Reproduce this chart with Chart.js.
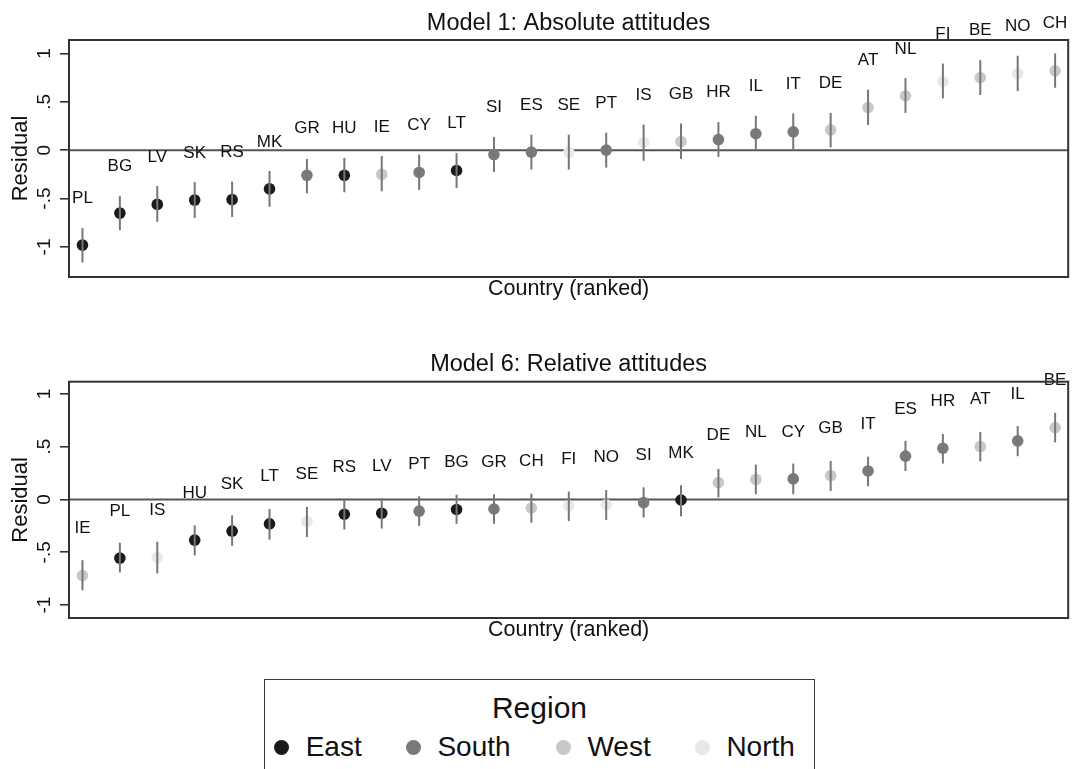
<!DOCTYPE html>
<html><head><meta charset="utf-8">
<script src="https://cdn.jsdelivr.net/npm/chart.js@4.4.1/dist/chart.umd.min.js"></script>
<style>
html,body{margin:0;padding:0;background:#fff;}
body{width:1074px;height:769px;position:relative;overflow:hidden;font-family:"Liberation Sans",Arial,sans-serif;color:#111;}
#c1{position:absolute;left:0;top:0;}
#c2{position:absolute;left:0;top:340px;}
#legend{position:absolute;left:264px;top:679px;width:551px;height:100px;border:1.6px solid #3a3a3a;box-sizing:border-box;}
#legend .ttl{position:absolute;left:0;right:0;top:10.4px;text-align:center;font-size:30px;line-height:36px;}
#legend .item{position:absolute;top:0;height:100px;}
#legend .dot{position:absolute;top:59.9px;left:0;width:15px;height:15px;border-radius:50%;}
#legend .txt{position:absolute;top:49.7px;left:31.5px;font-size:28px;line-height:34px;white-space:nowrap;}
</style>
</head><body>
<canvas id="c1" width="1074" height="307"></canvas>
<canvas id="c2" width="1074" height="308"></canvas>
<div id="legend"><div class="ttl">Region</div></div>
<script>
// ---- data ----
const regionNames = ['East','South','West','North'];

const m1Countries = ['PL','BG','LV','SK','RS','MK','GR','HU','IE','CY','LT','SI','ES','SE','PT','IS','GB','HR','IL','IT','DE','AT','NL','FI','BE','NO','CH'];
const m1Regions   = ['East','East','East','East','East','East','South','East','West','South','East','South','South','North','South','North','West','South','South','South','West','West','West','North','West','North','West'];
const m1Residual  = [-0.98,-0.65,-0.56,-0.515,-0.51,-0.40,-0.26,-0.26,-0.25,-0.23,-0.21,-0.045,-0.02,-0.02,0.0,0.08,0.09,0.11,0.17,0.19,0.21,0.44,0.56,0.71,0.75,0.79,0.82];
const m1Lower     = [-1.16,-0.825,-0.74,-0.70,-0.69,-0.585,-0.445,-0.435,-0.425,-0.41,-0.39,-0.225,-0.20,-0.20,-0.18,-0.11,-0.09,-0.07,0.0,0.01,0.03,0.26,0.385,0.535,0.57,0.61,0.645];
const m1Upper     = [-0.805,-0.475,-0.37,-0.33,-0.325,-0.215,-0.09,-0.08,-0.06,-0.045,-0.03,0.135,0.16,0.16,0.18,0.265,0.275,0.29,0.355,0.38,0.385,0.625,0.745,0.895,0.93,0.975,1.0];

const m6Countries = ['IE','PL','IS','HU','SK','LT','SE','RS','LV','PT','BG','GR','CH','FI','NO','SI','MK','DE','NL','CY','GB','IT','ES','HR','AT','IL','BE'];
const m6Regions   = ['West','East','North','East','East','East','North','East','East','South','East','South','West','North','North','South','East','West','West','South','West','South','South','South','West','South','West'];
const m6Residual  = [-0.72,-0.555,-0.55,-0.385,-0.30,-0.23,-0.21,-0.14,-0.13,-0.11,-0.095,-0.09,-0.08,-0.06,-0.05,-0.03,-0.005,0.16,0.19,0.195,0.225,0.27,0.41,0.485,0.50,0.555,0.68];
const m6Lower     = [-0.86,-0.69,-0.70,-0.53,-0.44,-0.38,-0.355,-0.285,-0.275,-0.25,-0.23,-0.23,-0.22,-0.205,-0.195,-0.17,-0.16,0.02,0.05,0.05,0.08,0.125,0.27,0.34,0.36,0.41,0.54];
const m6Upper     = [-0.575,-0.41,-0.40,-0.245,-0.15,-0.09,-0.07,0.0,0.01,0.03,0.045,0.05,0.055,0.075,0.09,0.115,0.135,0.29,0.33,0.34,0.365,0.405,0.555,0.62,0.64,0.695,0.82];

const yTickValues = [-1,-0.5,0,0.5,1];
const yTickLabels = ['-1','-.5','0','.5','1'];

// ---- styles ----
const regionColors = {East:'#1a1a1a', South:'#7a7a7a', West:'#c8c8c8', North:'#e8e8e8'};
const FONT = '"Liberation Sans", Arial, sans-serif';

function annotPlugin(countries, lower, upper){
  return {
    id:'annot',
    beforeDatasetsDraw(chart){
      const {ctx, chartArea:a, scales:{y}} = chart;
      const py = y.getPixelForValue(0);
      ctx.save();
      ctx.strokeStyle = '#555'; ctx.lineWidth = 2;
      ctx.beginPath(); ctx.moveTo(a.left, py); ctx.lineTo(a.right, py); ctx.stroke();
      ctx.restore();
    },
    afterDatasetsDraw(chart){
      const {ctx, scales:{x,y}} = chart;
      ctx.save();
      ctx.strokeStyle = '#767676'; ctx.lineWidth = 2;
      countries.forEach((c,i)=>{
        const px = x.getPixelForValue(i+1);
        ctx.beginPath();
        ctx.moveTo(px, y.getPixelForValue(lower[i]));
        ctx.lineTo(px, y.getPixelForValue(upper[i]));
        ctx.stroke();
      });
      ctx.restore();
    },
    afterDraw(chart){
      const {ctx, chartArea:a, scales:{x,y}} = chart;
      ctx.save();
      // country labels
      ctx.fillStyle = '#111'; ctx.font = '17px ' + FONT;
      ctx.textAlign = 'center'; ctx.textBaseline = 'middle';
      chart.data.datasets.forEach(ds=>{
        ds.data.forEach(d=>{
          const px = x.getPixelForValue(d.x), py = y.getPixelForValue(d.y);
          ctx.fillText(d.label, px, py - 47);
        });
      });
      // plot box
      ctx.strokeStyle = '#333'; ctx.lineWidth = 2;
      ctx.strokeRect(a.left, a.top, a.right - a.left, a.bottom - a.top);
      // rotated y tick labels
      ctx.font = '19px ' + FONT; ctx.fillStyle = '#111';
      y.ticks.forEach(t=>{
        const k = yTickValues.indexOf(t.value);
        if (k < 0) return;
        const py = y.getPixelForValue(t.value);
        ctx.save();
        ctx.translate(44.5, py);
        ctx.rotate(-Math.PI/2);
        ctx.textAlign = 'center'; ctx.textBaseline = 'middle';
        ctx.fillText(yTickLabels[k], 0, 0);
        ctx.restore();
      });
      ctx.restore();
    }
  };
}

function makeChart(id, titleText, countries, regions, vals, lower, upper, yMin, yMax, titlePad, xTitlePadB){
  const datasets = regionNames.map(r=>({
    label: r,
    data: countries.map((c,i)=>({x:i+1, y:vals[i], label:c, r:regions[i]})).filter(d=>d.r===r),
    backgroundColor: regionColors[r],
    borderWidth: 0,
    pointRadius: 5.8,
    pointHoverRadius: 5.8
  }));
  return new Chart(document.getElementById(id), {
    type: 'scatter',
    data: { datasets },
    options: {
      responsive: false,
      maintainAspectRatio: false,
      animation: false,
      events: [],
      layout: { padding: { left:0, right:3, top:0, bottom:0 } },
      plugins: {
        legend: { display:false },
        tooltip: { enabled:false },
        title: { display:true, text:titleText, fullSize:false, color:'#111',
                 font:{ size:23.5, weight:'normal', family:FONT, lineHeight:1.2 },
                 padding:titlePad }
      },
      scales: {
        x: {
          type:'linear', min:0.64, max:27.35,
          ticks:{ display:false }, grid:{ display:false }, border:{ display:false },
          title:{ display:true, text:'Country (ranked)', color:'#111',
                  font:{ size:21.5, family:FONT, lineHeight:1.2 }, padding:{ top:0, bottom:xTitlePadB } },
          afterFit: s => { s.height = 30; }
        },
        y: {
          type:'linear', min:yMin, max:yMax,
          afterBuildTicks: s => { s.ticks = yTickValues.map(v=>({value:v})); },
          ticks:{ display:false },
          grid:{ display:true, drawOnChartArea:false, drawTicks:true, tickLength:9, color:'#333', lineWidth:1.6 },
          border:{ display:false },
          title:{ display:true, text:'Residual', color:'#111',
                  font:{ size:22, family:FONT, lineHeight:1.2 }, padding:{ top:7.3, bottom:0 } },
          afterFit: s => { s.width = 69; }
        }
      }
    },
    plugins: [annotPlugin(countries, lower, upper)]
  });
}

makeChart('c1','Model 1: Absolute attitudes', m1Countries, m1Regions, m1Residual, m1Lower, m1Upper, -1.31, 1.138, {top:9.2,bottom:2.6}, 5.1);
makeChart('c2','Model 6: Relative attitudes', m6Countries, m6Regions, m6Residual, m6Lower, m6Upper, -1.122, 1.115, {top:10.4,bottom:3.1}, 4.6);

// legend
const legendLefts = {East:9.2, South:140.9, West:290.9, North:429.9};
const lg = document.getElementById('legend');
regionNames.forEach(r=>{
  const it = document.createElement('div');
  it.className = 'item';
  it.style.left = legendLefts[r] + 'px';
  it.innerHTML = '<div class="dot" style="background:' + regionColors[r] + '"></div><div class="txt">' + r + '</div>';
  lg.appendChild(it);
});
</script>
</body></html>
